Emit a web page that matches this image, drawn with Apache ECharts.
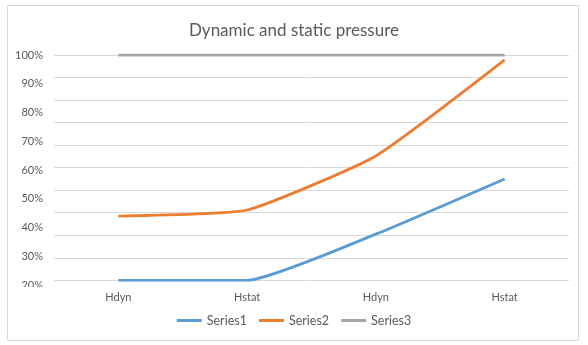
<!DOCTYPE html>
<html><head><meta charset="utf-8">
<script src="https://cdn.jsdelivr.net/npm/echarts@6/dist/echarts.min.js"></script>
<style>html,body{margin:0;padding:0;background:#fff}#c{width:588px;height:345px}</style>
</head><body><div id="c"></div>
<script>
const categories = ['Hdyn', 'Hstat', 'Hdyn', 'Hstat'];
const series1 = [0, 0, 20.5, 45.0];
const series2 = [28.5, 31.2, 55.2, 97.8];
const series3 = [100, 100, 100, 100];
const tickLabels = ['20%', '30%', '40%', '50%', '60%', '70%', '80%', '90%', '100%'];
const seriesNames = ['Series1', 'Series2', 'Series3'];
const colors = ['#5b9bd5', '#ed7d31', '#a5a5a5'];

const chart = echarts.init(document.getElementById('c'));
const txt = '#595959';
const font = 'Lato, "Open Sans", sans-serif';
chart.setOption({
  animation: false,
  color: colors,
  title: {
    text: 'Dynamic and static pressure', left: 'center', top: 17,
    textStyle: { fontFamily: font, fontSize: 17, fontWeight: 'normal', color: txt }
  },
  legend: {
    bottom: 13, left: 'center', itemWidth: 25, itemHeight: 3, itemGap: 12, icon: 'rect',
    textStyle: { fontFamily: font, fontSize: 12.5, color: txt },
    data: seriesNames
  },
  grid: [
    { left: 54, right: 19, top: 55, bottom: 64.7 },
    { left: 54, right: 19, top: 55, bottom: 60 }
  ],
  xAxis: [
    { type: 'category', data: categories, gridIndex: 0, boundaryGap: true,
      axisLine: { show: false }, axisTick: { show: false },
      axisLabel: { margin: 12, fontFamily: font, fontSize: 11, color: txt } },
    { type: 'category', data: categories, gridIndex: 1, show: false }
  ],
  yAxis: [
    { type: 'value', gridIndex: 0, min: 0, max: 100, interval: 10,
      axisLabel: { show: false }, axisLine: { show: false }, axisTick: { show: false },
      splitLine: { lineStyle: { color: '#d9d9d9', width: 1 } } },
    { type: 'value', gridIndex: 1, min: 20, max: 100, interval: 10,
      axisLine: { show: false }, axisTick: { show: false }, splitLine: { show: false },
      axisLabel: { margin: 11, fontFamily: font, fontSize: 11, color: txt,
        formatter: v => tickLabels[Math.round((v - 20) / 10)] } }
  ],
  graphic: [
    { type: 'rect', shape: { x: 7.5, y: 5.5, width: 571, height: 335 },
      style: { fill: 'none', stroke: '#d9d9d9', lineWidth: 1 }, z: 0 },
    { type: 'rect', shape: { x: 10, y: 287, width: 40, height: 8 },
      style: { fill: '#fff' }, z: 100 }
  ],
  series: [
    { name: seriesNames[0], type: 'line', data: series1, smooth: 0.15, symbol: 'none',
      lineStyle: { width: 2.8 }, xAxisIndex: 0, yAxisIndex: 0 },
    { name: seriesNames[1], type: 'line', data: series2, smooth: 0.15, symbol: 'none',
      lineStyle: { width: 2.8 }, xAxisIndex: 0, yAxisIndex: 0 },
    { name: seriesNames[2], type: 'line', data: series3, smooth: 0.15, symbol: 'none',
      lineStyle: { width: 2.8 }, xAxisIndex: 0, yAxisIndex: 0 }
  ]
});
</script></body></html>
